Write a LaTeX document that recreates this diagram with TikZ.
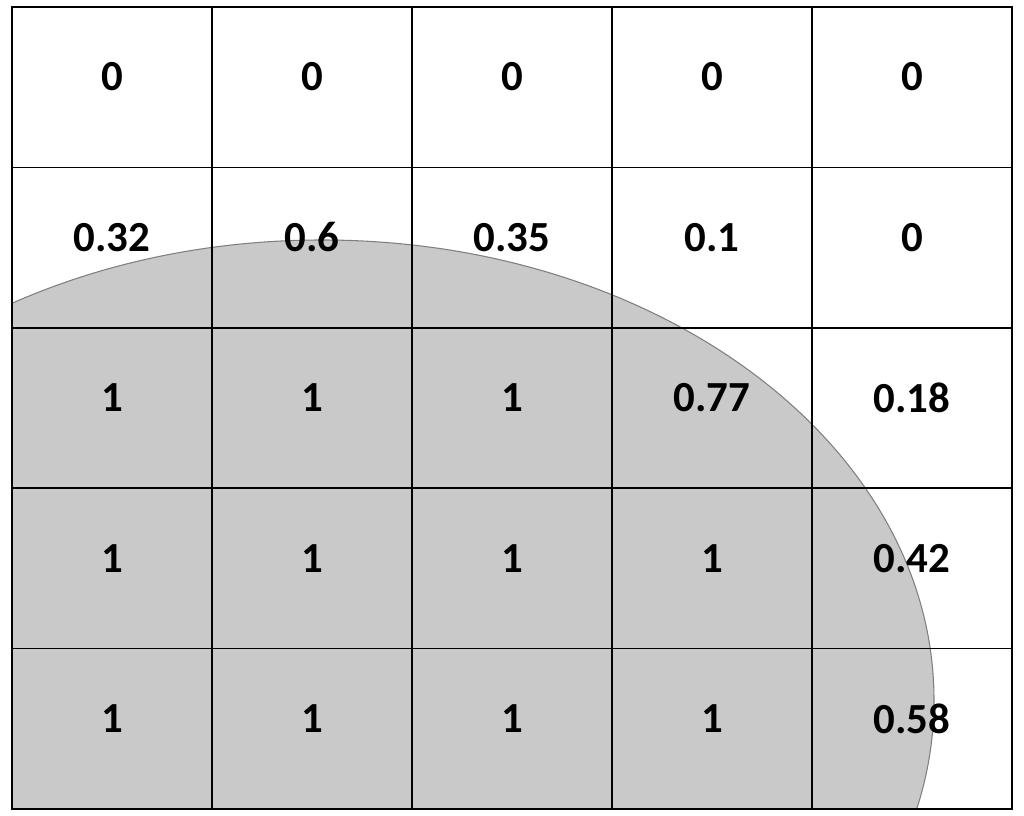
\documentclass[tikz,border=0pt]{standalone}
\usepackage{fontspec}
\setmainfont{Carlito}
\definecolor{blobfill}{HTML}{C9C9C9}
\definecolor{blobline}{HTML}{7F7F7F}
\begin{document}
\begin{tikzpicture}[x=0.01cm,y=-0.01cm,
  val/.style={font=\fontsize{12.2}{14}\selectfont\bfseries, inner sep=0pt, anchor=center},
  gridline/.style={draw=black, line width=0.45pt}]
\useasboundingbox (0,0) rectangle (1024,816);
\fill[white] (0,0) rectangle (1024,816);
\begin{scope}
  \clip (12,7) rectangle (1012,809);
  \filldraw[fill=blobfill, draw=blobline, line width=0.3pt] (322,700) ellipse [x radius=612, y radius=460];
\end{scope}
\foreach \i in {0,...,5} {
  \draw[gridline] ({12+200*\i},7) -- ({12+200*\i},809);
  \draw[gridline] (12,{7+160.4*\i}) -- (1012,{7+160.4*\i});
}
\draw[draw=black, line width=0.6pt] (12,7) rectangle (1012,809);
\foreach \r/\vals in {0/{0,0,0,0,0},1/{0.32,0.6,0.35,0.1,0},2/{1,1,1,0.77,0.18},3/{1,1,1,1,0.42},4/{1,1,1,1,0.58}} {
  \foreach \v [count=\c from 0] in \vals {
    \node[val] (c\r\c) at ({112+200*\c},{77+160.4*\r}) {\v};
  }
}
\end{tikzpicture}
\end{document}
